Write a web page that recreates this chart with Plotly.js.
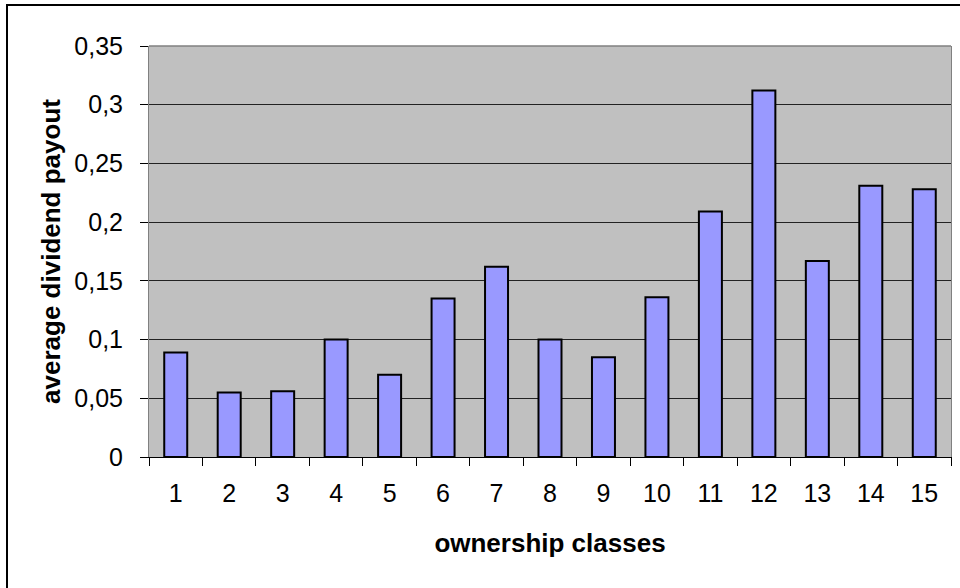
<!DOCTYPE html>
<html>
<head>
<meta charset="utf-8">
<script src="https://cdn.plot.ly/plotly-3.0.1.min.js"></script>
<style>
  html, body { margin: 0; padding: 0; background: #fff; overflow: hidden; }
  #chart { position: absolute; left: 0; top: 0; width: 960px; height: 588px; }
  #frame { position: absolute; left: 6px; top: 4px; width: 1000px; height: 700px;
           border: 2px solid #000; pointer-events: none; box-sizing: border-box; }
</style>
</head>
<body>
<div id="chart"></div>
<div id="frame"></div>
<script>
const categories = ["1","2","3","4","5","6","7","8","9","10","11","12","13","14","15"];
const payout = [0.089, 0.055, 0.056, 0.100, 0.070, 0.135, 0.162, 0.100, 0.085, 0.136, 0.209, 0.312, 0.167, 0.231, 0.228];
const yTickValues = [0, 0.05, 0.1, 0.15, 0.2, 0.25, 0.3, 0.35];
const yTickLabels = ["0", "0,05", "0,1", "0,15", "0,2", "0,25", "0,3", "0,35"];
const xTitle = "ownership classes";
const yTitle = "average dividend payout";

const font = "Liberation Sans, Arial, sans-serif";

Plotly.newPlot("chart", [{
  type: "bar",
  x: categories,
  y: payout,
  marker: { color: "#9999FF", line: { color: "#000000", width: 2 } },
  hoverinfo: "skip"
}], {
  width: 960, height: 588,
  margin: { l: 149, r: 9, t: 46, b: 131 },
  paper_bgcolor: "rgba(0,0,0,0)",
  plot_bgcolor: "#C0C0C0",
  bargap: 0.57,
  showlegend: false,
  font: { family: font, color: "#000", size: 25 },
  xaxis: {
    type: "category",
    showgrid: false,
    showline: true, linecolor: "#000", linewidth: 1,
    ticks: "outside", tickson: "boundaries", ticklen: 8, tickcolor: "#000", tickwidth: 1,
    ticklabelstandoff: 14,
    tickfont: { family: font, size: 25, color: "#000" },
    title: { text: xTitle, font: { family: font, size: 26, color: "#000", weight: "bold" }, standoff: 27 },
    zeroline: false, fixedrange: true
  },
  yaxis: {
    range: [0, 0.35],
    tickvals: yTickValues, ticktext: yTickLabels,
    showgrid: true, gridcolor: "#222", gridwidth: 1,
    showline: true, linecolor: "#808080", linewidth: 1, mirror: true,
    ticks: "outside", ticklen: 8, tickcolor: "#000", tickwidth: 1,
    ticklabelstandoff: 12,
    tickfont: { family: font, size: 25, color: "#000" },
    title: { text: yTitle, font: { family: font, size: 26, color: "#000", weight: "bold" }, standoff: 6 },
    zeroline: false, fixedrange: true
  },
  shapes: [
    { type: "line", xref: "paper", yref: "paper", x0: 0, x1: 1, y0: 1, y1: 1,
      line: { color: "#808080", width: 1.5 } }
  ]
}, { displayModeBar: false, staticPlot: true });
</script>
</body>
</html>
